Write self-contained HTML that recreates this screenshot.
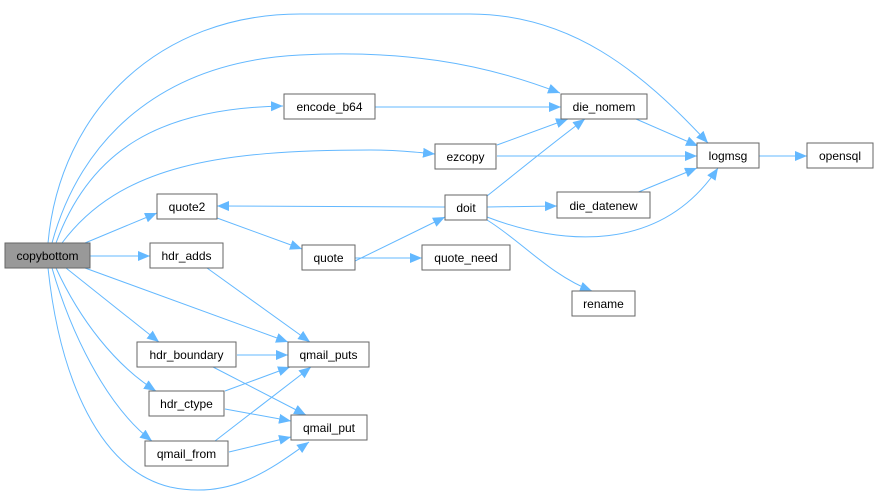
<!DOCTYPE html>
<html><head><meta charset="utf-8"><style>
html,body{margin:0;padding:0;background:#fff;}
svg{display:block;}
text{font-family:"Liberation Sans",Arial,sans-serif;font-size:12px;fill:#000;}
.n{fill:#fff;stroke:#666;stroke-width:1;}
.e{fill:none;stroke:#63b8ff;stroke-width:1;marker-end:url(#a);}
</style></head><body>
<svg width="878" height="497" viewBox="0 0 878 497" xmlns="http://www.w3.org/2000/svg">
<defs><marker id="a" markerUnits="userSpaceOnUse" markerWidth="14" markerHeight="11" refX="12" refY="5" orient="auto"><path d="M0,0 L12,5 L0,10 z" fill="#63b8ff"/></marker></defs>
<path class="e" d="M48,243 C60,110 160,14 300,14 L470,14 C570,14 640,70 708,143"/>
<path class="e" d="M52,243 C80,140 160,62 300,55 C400,50 480,62 560,93"/>
<path class="e" d="M56,243 C90,150 160,108 283,106"/>
<path class="e" d="M62,243 C120,165 220,150 370,150 C395,150 415,152 435,154"/>
<path class="e" d="M85,243 L157,213"/>
<path class="e" d="M90,256 L150,256"/>
<path class="e" d="M85,268 L288,342"/>
<path class="e" d="M66,268 L159,342"/>
<path class="e" d="M56,268 C80,320 115,365 156,391"/>
<path class="e" d="M52,268 C70,330 105,405 152,441"/>
<path class="e" d="M48,268 C60,380 100,470 170,487 C230,500 270,470 309,442"/>
<path class="e" d="M217,218 L302,249"/>
<path class="e" d="M445,207 L217,206"/>
<path class="e" d="M355,261 L445,217"/>
<path class="e" d="M355,258 L422,258"/>
<path class="e" d="M487,196 C520,170 550,145 585,119"/>
<path class="e" d="M487,207 L557,206"/>
<path class="e" d="M487,217 C560,245 660,255 718,168"/>
<path class="e" d="M487,220 C520,240 550,275 592,291"/>
<path class="e" d="M497,145 L568,119"/>
<path class="e" d="M497,156 L697,156"/>
<path class="e" d="M375,107 L561,107"/>
<path class="e" d="M636,119 L698,146"/>
<path class="e" d="M636,193 L697,168"/>
<path class="e" d="M759,156 L807,156"/>
<path class="e" d="M207,268 L310,342"/>
<path class="e" d="M237,355 L288,355"/>
<path class="e" d="M213,367 L306,415"/>
<path class="e" d="M225,391 L290,367"/>
<path class="e" d="M225,409 L291,421"/>
<path class="e" d="M215,441 L311,367"/>
<path class="e" d="M229,452 L291,437"/>
<rect x="5" y="243" width="85" height="25" fill="#999" stroke="#666"/>
<text x="47.5" y="260" text-anchor="middle">copybottom</text>
<rect class="n" x="284" y="94" width="91" height="25"/><text x="329.5" y="111" text-anchor="middle">encode_b64</text>
<rect class="n" x="561" y="94" width="86" height="25"/><text x="604" y="111" text-anchor="middle">die_nomem</text>
<rect class="n" x="435" y="144" width="61" height="25"/><text x="465.5" y="161" text-anchor="middle">ezcopy</text>
<rect class="n" x="697" y="143" width="62" height="25"/><text x="728" y="160" text-anchor="middle">logmsg</text>
<rect class="n" x="807" y="143" width="66" height="25"/><text x="840" y="160" text-anchor="middle">opensql</text>
<rect class="n" x="157" y="194" width="60" height="25"/><text x="187" y="211" text-anchor="middle">quote2</text>
<rect class="n" x="445" y="195" width="42" height="25"/><text x="466" y="212" text-anchor="middle">doit</text>
<rect class="n" x="557" y="192" width="93" height="26"/><text x="603.5" y="210" text-anchor="middle">die_datenew</text>
<rect class="n" x="150" y="243" width="73" height="25"/><text x="186.5" y="260" text-anchor="middle">hdr_adds</text>
<rect class="n" x="302" y="245" width="53" height="25"/><text x="328.5" y="262" text-anchor="middle">quote</text>
<rect class="n" x="422" y="245" width="88" height="25"/><text x="466" y="262" text-anchor="middle">quote_need</text>
<rect class="n" x="572" y="291" width="63" height="25"/><text x="603.5" y="308" text-anchor="middle">rename</text>
<rect class="n" x="137" y="342" width="99" height="25"/><text x="186.5" y="359" text-anchor="middle">hdr_boundary</text>
<rect class="n" x="288" y="342" width="81" height="25"/><text x="328.5" y="359" text-anchor="middle">qmail_puts</text>
<rect class="n" x="149" y="391" width="75" height="25"/><text x="186.5" y="408" text-anchor="middle">hdr_ctype</text>
<rect class="n" x="291" y="415" width="76" height="25"/><text x="329" y="432" text-anchor="middle">qmail_put</text>
<rect class="n" x="145" y="441" width="83" height="25"/><text x="186.5" y="458" text-anchor="middle">qmail_from</text>
</svg>
</body></html>
